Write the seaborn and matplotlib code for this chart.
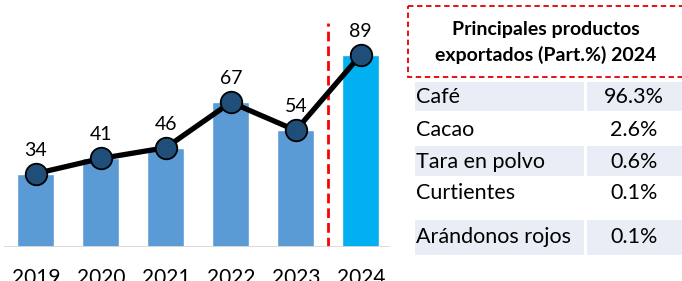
import matplotlib
matplotlib.use("Agg")
import matplotlib.pyplot as plt
from matplotlib.patches import Rectangle
import numpy as np
import seaborn as sns

years = ["2019", "2020", "2021", "2022", "2023", "2024"]
values = [34, 41, 46, 67, 54, 89]
products = ["Café", "Cacao", "Tara en polvo", "Curtientes", "Arándonos rojos"]
shares = ["96.3%", "2.6%", "0.6%", "0.1%", "0.1%"]
table_title = "Principales productos\nexportados (Part.%) 2024"

sns.set_theme(style="white")
plt.rcParams["font.family"] = ["Lato", "DejaVu Sans"]

W, H = 682, 281
fig = plt.figure(figsize=(W / 100, H / 100), dpi=100)

# ---- bar + line chart ----
ax = fig.add_axes([4 / W, 34 / H, 386 / W, 247 / H])
bar_colors = ["#5B9BD5"] * (len(years) - 1) + ["#00B0F0"]
sns.barplot(x=years, y=values, hue=years, palette=bar_colors, legend=False,
            width=0.57, saturation=1, ax=ax)
xs = np.arange(len(years))
ax.plot(xs, values, color="black", lw=3.8, zorder=3,
        marker="o", markersize=15.5, markerfacecolor="#1F4E79",
        markeredgecolor="black", markeredgewidth=1.3)
for x, v in zip(xs, values):
    ax.annotate(str(v), (x, v), xytext=(0, 13), textcoords="offset points",
                ha="center", va="baseline", fontsize=14, color="black")
ax.set_xlim(-0.49, 5.45)
ax.set_ylim(0, 114.4)
ax.axhline(0, color="#D9D9D9", lw=1.3, zorder=4)
ax.axvline(4.5, ymin=0, ymax=103.7 / 114.4, color="#FF0000", lw=2.0,
           ls=(0, (3.5, 1.8)), zorder=2)
for s in ax.spines.values():
    s.set_visible(False)
ax.set_yticks([])
ax.set_xlabel("")
ax.set_ylabel("")
ax.tick_params(axis="x", length=0, pad=15, labelsize=15, labelcolor="black")

# ---- table ----
tx = fig.add_axes([0, 0, 1, 1], facecolor="none")
tx.set_xlim(0, W)
tx.set_ylim(H, 0)
tx.axis("off")
tx.add_patch(Rectangle((408, 6), 280, 71, fill=False, edgecolor="#E00000",
                       lw=1.3, ls=(0, (3, 2))))
title_lines = table_title.split("\n")
for ty, line in zip([30, 55], title_lines):
    tx.text(546, ty, line, ha="center", va="center", fontsize=14,
            fontweight="bold", color="black")

row_bounds = [(82, 111), (111, 146), (146, 176), (176, 210), (220, 255)]
text_y = [97, 130, 162, 193, 237]
for i, (prod, sh) in enumerate(zip(products, shares)):
    y0, y1 = row_bounds[i]
    if i % 2 == 0:
        tx.add_patch(Rectangle((415, y0), 169, y1 - y0, color="#E9EDF5", lw=0))
        tx.add_patch(Rectangle((587, y0), 96, y1 - y0, color="#E9EDF5", lw=0))
    tx.text(416, text_y[i], prod, ha="left", va="center", fontsize=15.5,
            color="black")
    tx.text(634, text_y[i], sh, ha="center", va="center", fontsize=15.5,
            color="black")

fig.savefig("out.png", dpi=100)
